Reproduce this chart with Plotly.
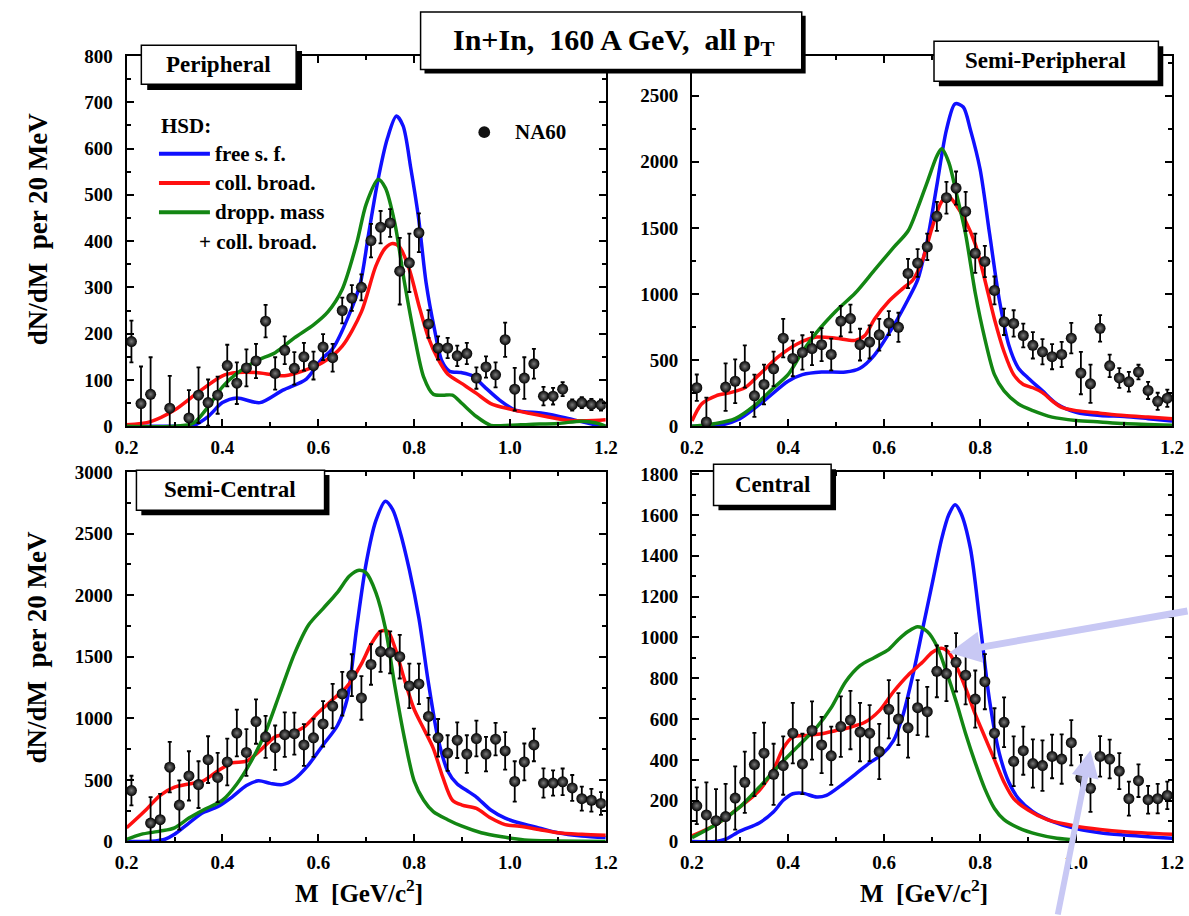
import plotly.graph_objects as go

W, H = 1189, 916
FONT = "Liberation Serif"
BLUE, RED, GREEN = "#1010ff", "#ff1010", "#138613"

# ---------------- data ----------------
# Peripheral
per_x = [0.21,0.23,0.25,0.29,0.33,0.35,0.37,0.39,0.41,0.43,0.45,0.47,0.49,0.51,0.53,0.55,0.57,0.59,0.61,0.63,0.65,0.67,0.69,0.71,0.73,0.75,0.77,0.79,0.81,0.83,0.85,0.87,0.89,0.91,0.93,0.95,0.97,0.99,1.01,1.03,1.05,1.07,1.09,1.11,1.13,1.15,1.17,1.19]
per_y = [183,49,69,39,18,67,51,67,131,93,126,141,227,114,164,125,150,131,171,148,250,277,300,401,430,439,335,353,418,221,169,169,152,157,104,128,111,187,80,104,135,65,65,80,46,51,47,46]
per_e = [45,80,80,70,60,60,50,40,45,45,40,37,35,35,30,35,30,30,28,30,28,28,28,36,35,30,72,63,42,30,25,22,22,23,23,23,27,37,46,45,32,20,18,15,12,12,12,12]
per_free_x = [0.2,0.3,0.34,0.37,0.40,0.43,0.478,0.526,0.575,0.607,0.631,0.664,0.688,0.704,0.724,0.744,0.763,0.777,0.793,0.809,0.825,0.842,0.858,0.874,0.898,0.922,0.947,0.979,1.011,1.068,1.117,1.173,1.2]
per_free_y = [0,0,2,21,51,61,51,78,102,145,169,240,310,409,529,621,670,649,558,452,310,212,141,119,116,109,85,56,35,28,18,4,0]
per_coll_x = [0.2,0.25,0.30,0.35,0.40,0.43,0.47,0.53,0.57,0.61,0.65,0.69,0.72,0.74,0.755,0.77,0.79,0.81,0.83,0.85,0.87,0.90,0.93,0.96,1.0,1.04,1.08,1.12,1.16,1.2]
per_coll_y = [3,10,35,74,109,116,116,109,120,138,173,247,346,385,395,387,339,261,191,145,113,92,71,49,37,28,20,13,12,14]
per_drop_x = [0.2,0.3,0.34,0.37,0.40,0.43,0.47,0.51,0.55,0.59,0.62,0.65,0.68,0.70,0.725,0.74,0.76,0.78,0.80,0.82,0.84,0.86,0.88,0.90,0.93,0.96,1.0,1.04,1.1,1.15,1.18,1.2]
per_drop_y = [0,0,7,42,85,114,141,159,191,219,247,296,395,480,533,515,437,310,198,106,69,67,67,49,21,2,2,4,6,11,7,0]

# Semi-Peripheral
sper_x = [0.21,0.23,0.27,0.29,0.31,0.33,0.35,0.37,0.39,0.41,0.43,0.45,0.47,0.49,0.51,0.53,0.55,0.57,0.59,0.61,0.63,0.65,0.67,0.69,0.71,0.73,0.75,0.77,0.79,0.81,0.83,0.85,0.87,0.89,0.91,0.93,0.95,0.97,0.99,1.01,1.03,1.05,1.07,1.09,1.11,1.13,1.15,1.17,1.19]
sper_y = [291,32,296,340,452,230,316,434,666,513,558,587,617,543,795,814,617,637,691,780,748,1155,1234,1357,1587,1728,1801,1624,1308,1246,1027,790,777,686,612,563,526,543,666,402,321,740,457,365,336,410,271,188,212]
sper_e = [100,185,180,165,160,160,150,130,145,135,130,125,125,120,115,105,120,125,120,90,110,110,105,100,110,120,125,148,148,118,105,100,100,90,100,95,95,95,115,160,145,100,85,75,75,55,65,65,65]
sper_free_x = [0.2,0.25,0.30,0.35,0.40,0.43,0.47,0.52,0.55,0.58,0.62,0.65,0.67,0.69,0.71,0.73,0.748,0.765,0.78,0.80,0.82,0.84,0.86,0.88,0.90,0.93,0.96,1.0,1.05,1.1,1.15,1.2]
sper_free_y = [0,0,57,192,340,390,410,410,439,538,760,958,1106,1402,1821,2241,2438,2414,2241,1945,1451,958,612,439,365,267,168,106,81,74,57,39]
sper_coll_x = [0.2,0.22,0.25,0.28,0.31,0.34,0.38,0.42,0.46,0.50,0.54,0.56,0.58,0.61,0.64,0.66,0.68,0.70,0.72,0.735,0.75,0.77,0.79,0.81,0.83,0.85,0.87,0.89,0.91,0.93,0.95,0.97,1.0,1.05,1.1,1.15,1.2]
sper_coll_y = [39,168,230,254,291,390,526,624,674,666,649,686,809,945,1044,1106,1254,1500,1698,1735,1673,1550,1377,1106,809,563,390,316,291,254,192,143,118,99,81,69,57]
sper_drop_x = [0.2,0.25,0.29,0.33,0.37,0.40,0.43,0.46,0.50,0.54,0.58,0.62,0.65,0.67,0.69,0.71,0.72,0.735,0.75,0.77,0.79,0.81,0.83,0.85,0.88,0.91,0.95,1.0,1.05,1.1,1.2]
sper_drop_y = [0,20,57,155,291,390,563,711,871,1007,1180,1352,1476,1649,1846,2043,2098,1994,1772,1451,1007,661,390,267,168,118,69,44,32,20,7]

# Semi-Central
scen_x = [0.21,0.25,0.27,0.29,0.31,0.33,0.35,0.37,0.39,0.41,0.43,0.45,0.47,0.49,0.51,0.53,0.55,0.57,0.59,0.61,0.63,0.65,0.67,0.69,0.71,0.73,0.75,0.77,0.79,0.81,0.83,0.85,0.87,0.89,0.91,0.93,0.95,0.97,0.99,1.01,1.03,1.05,1.07,1.09,1.11,1.13,1.15,1.17,1.19]
scen_y = [414,150,177,604,296,533,462,665,520,646,881,723,974,850,762,868,876,784,842,955,1100,1200,1351,1166,1438,1543,1536,1501,1264,1280,1016,842,718,823,710,836,710,831,736,488,646,784,475,475,485,435,348,335,309]
scen_e = [120,210,210,205,200,200,190,190,200,190,190,190,180,170,180,180,170,170,155,185,180,177,170,177,165,165,170,177,180,165,150,153,145,145,153,145,140,132,153,164,150,132,119,103,108,105,98,92,92]
scen_free_x = [0.2,0.26,0.28,0.30,0.33,0.36,0.39,0.42,0.45,0.475,0.50,0.525,0.55,0.58,0.61,0.64,0.66,0.68,0.70,0.72,0.74,0.755,0.77,0.79,0.81,0.83,0.85,0.87,0.89,0.91,0.93,0.96,0.99,1.02,1.06,1.1,1.15,1.2]
scen_free_y = [0,5,18,58,150,235,282,361,454,493,472,462,507,625,784,942,1153,1733,2261,2604,2763,2697,2525,2208,1813,1285,836,573,467,414,361,256,190,150,111,71,45,32]
scen_coll_x = [0.2,0.24,0.27,0.30,0.33,0.36,0.39,0.42,0.45,0.48,0.51,0.54,0.57,0.60,0.63,0.66,0.69,0.71,0.73,0.745,0.76,0.78,0.80,0.82,0.84,0.86,0.88,0.90,0.93,0.96,0.99,1.02,1.06,1.1,1.15,1.2]
scen_coll_y = [111,256,375,441,467,493,573,638,652,744,850,876,929,1047,1153,1259,1443,1602,1707,1707,1575,1311,1074,916,757,520,335,296,269,190,137,124,98,71,58,50]
scen_drop_x = [0.2,0.23,0.27,0.30,0.33,0.36,0.40,0.43,0.46,0.49,0.52,0.55,0.58,0.61,0.64,0.665,0.685,0.70,0.72,0.74,0.76,0.78,0.80,0.82,0.84,0.87,0.90,0.94,0.98,1.03,1.1,1.2]
scen_drop_y = [18,58,84,111,190,256,335,467,652,889,1206,1522,1760,1892,2024,2156,2203,2182,2024,1733,1259,836,493,335,243,177,124,71,40,13,5,0]

# Central
cen_x = [0.21,0.23,0.25,0.27,0.29,0.31,0.33,0.35,0.37,0.39,0.41,0.43,0.45,0.47,0.49,0.51,0.53,0.55,0.57,0.59,0.61,0.63,0.65,0.67,0.69,0.71,0.73,0.75,0.77,0.79,0.81,0.83,0.85,0.87,0.89,0.91,0.93,0.95,0.97,0.99,1.01,1.03,1.05,1.07,1.09,1.11,1.13,1.15,1.17,1.19]
cen_y = [175,130,102,122,213,290,377,433,329,372,531,380,544,473,420,563,595,536,531,441,648,600,557,656,636,834,823,878,815,698,783,531,584,393,445,382,372,417,404,484,313,261,417,404,345,210,298,205,210,226]
cen_e = [90,160,155,160,155,150,155,150,150,143,148,148,143,138,143,148,143,143,137,135,143,127,146,135,122,127,135,143,143,140,135,122,122,122,118,118,124,107,121,111,111,116,99,95,88,83,80,68,72,67]
cen_free_x = [0.2,0.25,0.27,0.30,0.34,0.37,0.39,0.41,0.43,0.46,0.48,0.51,0.54,0.57,0.595,0.62,0.64,0.66,0.68,0.70,0.72,0.735,0.748,0.76,0.78,0.80,0.82,0.84,0.86,0.88,0.91,0.95,1.0,1.05,1.1,1.2]
cen_free_y = [0,0,11,51,91,146,202,234,237,218,226,274,329,385,425,496,624,815,1037,1260,1483,1602,1650,1610,1435,1069,687,433,290,210,146,99,64,43,32,16]
cen_coll_x = [0.2,0.25,0.30,0.34,0.37,0.39,0.41,0.44,0.47,0.50,0.53,0.56,0.59,0.62,0.65,0.68,0.70,0.72,0.735,0.75,0.77,0.79,0.81,0.83,0.85,0.87,0.90,0.94,1.0,1.05,1.1,1.2]
cen_coll_y = [27,83,170,250,353,457,512,520,528,544,560,584,640,735,815,878,926,947,926,862,751,624,512,401,290,210,154,107,75,59,48,35]
cen_drop_x = [0.2,0.25,0.30,0.34,0.38,0.42,0.46,0.49,0.52,0.55,0.58,0.61,0.63,0.65,0.67,0.69,0.71,0.73,0.75,0.77,0.79,0.81,0.83,0.85,0.88,0.92,0.96,1.0]
cen_drop_y = [19,83,170,266,369,465,560,656,783,862,902,942,990,1029,1053,1029,958,831,687,528,385,258,162,107,67,35,16,8]

panel_names = ["Peripheral", "Semi-Peripheral", "Semi-Central", "Central"]
x_tick_vals = [0.2, 0.4, 0.6, 0.8, 1.0, 1.2]
x_tick_text = ["0.2", "0.4", "0.6", "0.8", "1.0", "1.2"]

panels = [
    dict(pts=(per_x, per_y, per_e), free=(per_free_x, per_free_y), coll=(per_coll_x, per_coll_y), drop=(per_drop_x, per_drop_y)),
    dict(pts=(sper_x, sper_y, sper_e), free=(sper_free_x, sper_free_y), coll=(sper_coll_x, sper_coll_y), drop=(sper_drop_x, sper_drop_y)),
    dict(pts=(scen_x, scen_y, scen_e), free=(scen_free_x, scen_free_y), coll=(scen_coll_x, scen_coll_y), drop=(scen_drop_x, scen_drop_y)),
    dict(pts=(cen_x, cen_y, cen_e), free=(cen_free_x, cen_free_y), coll=(cen_coll_x, cen_coll_y), drop=(cen_drop_x, cen_drop_y)),
]

# ---------------- layout helpers ----------------
def px(x):
    return x / W

def py(y):
    return 1 - y / H

fig = go.Figure()

for i, p in enumerate(panels):
    xa = "x" if i == 0 else f"x{i+1}"
    ya = "y" if i == 0 else f"y{i+1}"
    for key, col in (("free", BLUE), ("coll", RED), ("drop", GREEN)):
        cx, cy = p[key]
        fig.add_trace(go.Scatter(x=cx, y=cy, mode="lines", xaxis=xa, yaxis=ya,
                                 line=dict(color=col, width=3.5, shape="spline", smoothing=0.8),
                                 showlegend=False, hoverinfo="skip"))
    dx, dy, de = p["pts"]
    fig.add_trace(go.Scatter(x=dx, y=dy, mode="markers", xaxis=xa, yaxis=ya,
                             error_y=dict(type="data", array=de, color="black", thickness=1.8, width=2),
                             marker=dict(color="#000000", size=11, line=dict(width=0),
                                         gradient=dict(type="radial", color="#7a7a7a")),
                             showlegend=False))

# axes
left_dom = [px(117), px(606)]
right_dom = [px(694), px(1184)]
top_dom = [py(426), py(47)]
bot_dom = [py(851), py(473)]
yranges = [[0, 800], [0, 2800], [0, 3000], [0, 1810]]
ydticks = [(100, 50), (500, 250), (500, 250), (200, 100)]
tickfont = dict(family=FONT, size=19, color="black", weight="bold")

for i in range(4):
    xdom = left_dom if i % 2 == 0 else right_dom
    ydom = top_dom if i < 2 else bot_dom
    xk = "xaxis" if i == 0 else f"xaxis{i+1}"
    yk = "yaxis" if i == 0 else f"yaxis{i+1}"
    anchor_y = "y" if i == 0 else f"y{i+1}"
    anchor_x = "x" if i == 0 else f"x{i+1}"
    common = dict(showline=True, linecolor="black", linewidth=2, mirror="allticks",
                  ticks="inside", ticklen=7, tickwidth=1.5, tickcolor="black",
                  showgrid=False, zeroline=False, tickfont=tickfont)
    fig.layout[xk] = dict(domain=xdom, anchor=anchor_y, range=[0.2, 1.2],
                          tickvals=x_tick_vals, ticktext=x_tick_text, ticklabelstandoff=3,
                          minor=dict(ticks="inside", ticklen=4, tickwidth=1.5, tickcolor="black", dtick=0.1, tick0=0.2),
                          **common)
    d, md = ydticks[i]
    fig.layout[yk] = dict(domain=ydom, anchor=anchor_x, range=yranges[i], dtick=d, tick0=0,
                          ticklabelstandoff=8,
                          minor=dict(ticks="inside", ticklen=4, tickwidth=1.5, tickcolor="black", dtick=md),
                          **common)

shapes = []
annotations = []

def box(x0, y0, x1, y1, off):
    shapes.append(dict(type="rect", xref="paper", yref="paper", layer="above",
                       x0=px(x0 + off), x1=px(x1 + off), y0=py(y1 + off), y1=py(y0 + off),
                       fillcolor="black", line=dict(width=0)))
    shapes.append(dict(type="rect", xref="paper", yref="paper", layer="above",
                       x0=px(x0), x1=px(x1), y0=py(y1), y1=py(y0),
                       fillcolor="white", line=dict(color="black", width=1.5)))

def text(t, x, y, size, xanchor="center", angle=0):
    annotations.append(dict(text=t, x=px(x), y=py(y), xref="paper", yref="paper",
                            xanchor=xanchor, yanchor="middle", showarrow=False, textangle=angle,
                            font=dict(family=FONT, size=size, color="black", weight="bold")))

# title
box(417, 2, 806, 61, 4)
text("In+In,\u00a0\u00a0160 A GeV,\u00a0\u00a0all p<sub>T</sub>", 614, 33, 30)

# panel labels
box(132, 36, 290, 76, 6); text(panel_names[0], 211, 56, 23)
box(941, 32, 1170, 73, 5); text(panel_names[1], 1055, 52, 23)
box(127, 471, 319, 512, 5); text(panel_names[2], 223, 491, 23)
box(716, 465, 836, 507, 5); text(panel_names[3], 776, 486, 23)

# legend
text("HSD:", 150, 119, 21, xanchor="left")
for yy, col, lab in ((147, BLUE, "free s. f."), (177, RED, "coll. broad."), (207, GREEN, "dropp. mass")):
    shapes.append(dict(type="line", xref="paper", yref="paper", x0=px(150), x1=px(202), y0=py(yy), y1=py(yy),
                       line=dict(color=col, width=4)))
    text(lab, 205, yy, 21, xanchor="left")
text("+ coll. broad.", 189, 237, 21, xanchor="left")
shapes.append(dict(type="circle", xref="paper", yref="paper", x0=px(476), x1=px(488), y0=py(131), y1=py(119),
                   fillcolor="#111111", line=dict(width=0)))
text("NA60", 511, 125, 21, xanchor="left")

# axis titles
text("dN/dM\u00a0\u00a0per 20 MeV", 26, 224, 27, angle=-90)
text("dN/dM\u00a0\u00a0per 20 MeV", 26, 652, 27, angle=-90)
text("M\u00a0\u00a0[GeV/c<sup>2</sup>]", 354, 902, 25)
text("M\u00a0\u00a0[GeV/c<sup>2</sup>]", 931, 902, 25)

# arrows
ARROW = "#c8c8f4"
annotations.append(dict(x=0.736, y=925, xref="x4", yref="y4", ax=240, ay=-42, axref="pixel", ayref="pixel",
                        text="", showarrow=True, arrowhead=2, arrowsize=0.9, arrowwidth=7, arrowcolor=ARROW))
annotations.append(dict(x=1.03, y=447, xref="x4", yref="y4", ax=-33, ay=175, axref="pixel", ayref="pixel",
                        text="", showarrow=True, arrowhead=2, arrowsize=0.9, arrowwidth=6, arrowcolor=ARROW))

fig.update_layout(width=W, height=H, margin=dict(l=0, r=0, t=0, b=0),
                  paper_bgcolor="white", plot_bgcolor="white", showlegend=False,
                  shapes=shapes, annotations=annotations,
                  font=dict(family=FONT, color="black"))

fig.write_html("out.html")
